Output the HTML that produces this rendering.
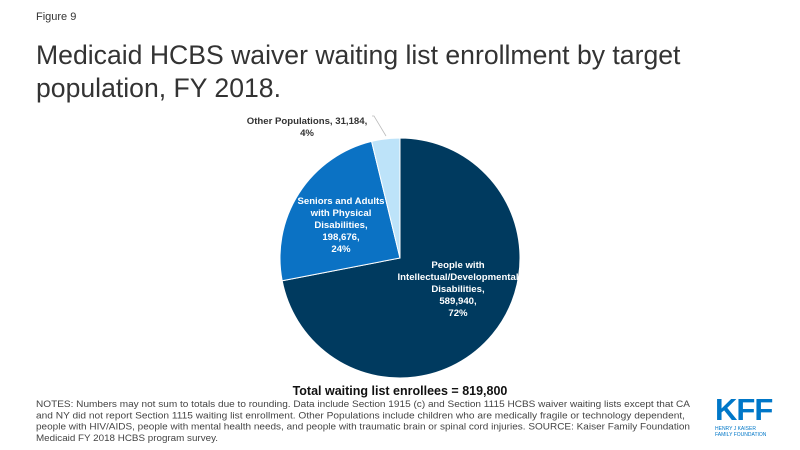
<!DOCTYPE html>
<html><head><meta charset="utf-8"><style>
body{margin:0;width:800px;height:450px;background:#fff;font-family:"Liberation Sans",Arial,sans-serif;position:relative;overflow:hidden}
.abs{position:absolute}
</style></head><body>
<div class="abs" style="left:36px;top:11px;font-size:11px;color:#333">Figure 9</div>
<div class="abs" style="left:36px;top:39px;font-size:26.6px;line-height:33px;color:#333;width:720px">Medicaid HCBS waiver waiting list enrollment by target population, FY 2018.</div>
<svg class="abs" style="left:0;top:0" width="800" height="450">
<g id="slices"></g>
<polyline points="372,116 374,116 386,136" fill="none" stroke="#bbb" stroke-width="0.8"/>
<g font-family="Liberation Sans,Arial,sans-serif" font-weight="bold" font-size="9.6" text-anchor="middle">
<text x="307" y="124" fill="#333"><tspan x="307">Other Populations, 31,184,</tspan><tspan x="307" dy="12">4%</tspan></text>
<text y="204" fill="#fff"><tspan x="341">Seniors and Adults</tspan><tspan x="341" dy="12">with Physical</tspan><tspan x="341" dy="12">Disabilities,</tspan><tspan x="341" dy="12">198,676,</tspan><tspan x="341" dy="12">24%</tspan></text>
<text y="268" fill="#fff"><tspan x="458">People with</tspan><tspan x="458" dy="12">Intellectual/Developmental</tspan><tspan x="458" dy="12">Disabilities,</tspan><tspan x="458" dy="12">589,940,</tspan><tspan x="458" dy="12">72%</tspan></text>
</g>
<g font-family="Liberation Sans,Arial,sans-serif" font-size="9.6" fill="#444">
<text x="36" y="407" textLength="654" lengthAdjust="spacingAndGlyphs">NOTES: Numbers may not sum to totals due to rounding. Data include Section 1915 (c) and Section 1115 HCBS waiver waiting lists except that CA</text>
<text x="36" y="418.3" textLength="649" lengthAdjust="spacingAndGlyphs">and NY did not report Section 1115 waiting list enrollment. Other Populations include children who are medically fragile or technology dependent,</text>
<text x="36" y="429.6" textLength="654" lengthAdjust="spacingAndGlyphs">people with HIV/AIDS, people with mental health needs, and people with traumatic brain or spinal cord injuries. SOURCE: Kaiser Family Foundation</text>
<text x="36" y="440.9" textLength="182" lengthAdjust="spacingAndGlyphs">Medicaid FY 2018 HCBS program survey.</text>
</g>
</svg>
<div class="abs" style="left:0;width:800px;text-align:center;top:384px;font-size:12.5px;font-weight:bold;color:#111">Total waiting list enrollees = 819,800</div>
<div class="abs" style="left:715px;top:394px;color:#0077c8">
<div style="font-size:31px;font-weight:bold;letter-spacing:-1px;line-height:31px">KFF</div>
<div style="font-size:5px;line-height:6px;margin-top:1px">HENRY J KAISER<br>FAMILY FOUNDATION</div>
</div>
<script>
const categories=["People with Intellectual/Developmental Disabilities","Seniors and Adults with Physical Disabilities","Other Populations"];
const values=[589940,198676,31184];
const colors=["#003a5f","#0b72c4","#bde3f9"];
const cx=400,cy=258,r=120;
const total=values.reduce((a,b)=>a+b,0);
const g=document.getElementById('slices');
let a0=0;
values.forEach((v,i)=>{
  const a1=a0+v/total*2*Math.PI;
  const p=a=>[cx+r*Math.sin(a),cy-r*Math.cos(a)];
  const [x0,y0]=p(a0),[x1,y1]=p(a1);
  const large=(a1-a0)>Math.PI?1:0;
  const el=document.createElementNS('http://www.w3.org/2000/svg','path');
  el.setAttribute('d',`M${cx},${cy}L${x0},${y0}A${r},${r} 0 ${large} 1 ${x1},${y1}Z`);
  el.setAttribute('fill',colors[i]);
  el.setAttribute('stroke','#fff');
  el.setAttribute('stroke-width','1');
  
  
  g.appendChild(el);
  a0=a1;
});
</script>
</body></html>
